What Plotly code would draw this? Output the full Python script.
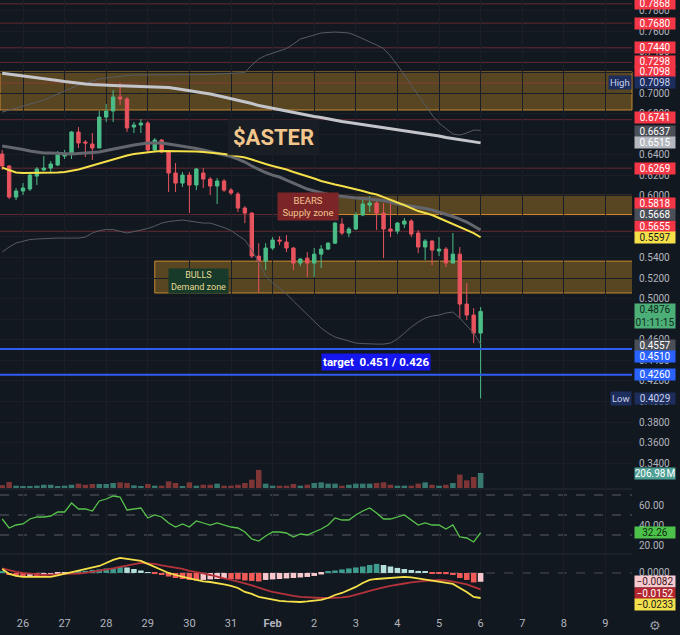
import plotly.graph_objects as go
import pandas as pd

# ---------------- data ----------------
times = pd.date_range("2026-01-25 12:00", periods=70, freq="4h")

opens = [0.6407, 0.6290, 0.5988, 0.6047, 0.6066, 0.6192, 0.6251, 0.6270, 0.6300, 0.6387,
         0.6407, 0.6621, 0.6523, 0.6504, 0.6465, 0.6766, 0.6825, 0.6961, 0.6942, 0.6669,
         0.6689, 0.6708, 0.6446, 0.6543, 0.6426, 0.6222, 0.6124, 0.6202, 0.6105, 0.6222,
         0.6163, 0.6095, 0.6144, 0.6056, 0.6017, 0.5881, 0.5832, 0.5414, 0.5365, 0.5492,
         0.5570, 0.5550, 0.5492, 0.5346, 0.5394, 0.5346, 0.5433, 0.5482, 0.5540, 0.5725,
         0.5638, 0.5677, 0.5813, 0.5910, 0.5930, 0.5832, 0.5677, 0.5657, 0.5725, 0.5755,
         0.5638, 0.5502, 0.5560, 0.5463, 0.5482, 0.5346, 0.5433, 0.4947, 0.4840, 0.4665]
highs = [0.6446, 0.6300, 0.6076, 0.6124, 0.6222, 0.6280, 0.6387, 0.6338, 0.6436, 0.6446,
         0.6630, 0.6669, 0.6543, 0.6611, 0.6825, 0.6893, 0.7029, 0.7098, 0.6961, 0.6718,
         0.6747, 0.6728, 0.6562, 0.6552, 0.6446, 0.6319, 0.6231, 0.6231, 0.6270, 0.6270,
         0.6183, 0.6173, 0.6163, 0.6076, 0.6037, 0.5900, 0.5842, 0.5540, 0.5540, 0.5599,
         0.5608, 0.5618, 0.5502, 0.5394, 0.5453, 0.5492, 0.5521, 0.5550, 0.5745, 0.5784,
         0.5696, 0.5842, 0.5969, 0.5998, 0.5959, 0.5930, 0.5930, 0.5745, 0.5784, 0.5774,
         0.5667, 0.5579, 0.5570, 0.5599, 0.5502, 0.5638, 0.5502, 0.5151, 0.4908, 0.4918]
lows = [0.6251, 0.5969, 0.5959, 0.6008, 0.6047, 0.6105, 0.6241, 0.6231, 0.6290, 0.6358,
        0.6358, 0.6465, 0.6377, 0.6348, 0.6465, 0.6718, 0.6718, 0.6883, 0.6621, 0.6611,
        0.6611, 0.6426, 0.6436, 0.6416, 0.6037, 0.6037, 0.6086, 0.5832, 0.6056, 0.6076,
        0.6008, 0.5920, 0.6037, 0.6008, 0.5842, 0.5735, 0.5394, 0.5054, 0.5278, 0.5472,
        0.5521, 0.5453, 0.5278, 0.5316, 0.5210, 0.5210, 0.5297, 0.5472, 0.5531, 0.5618,
        0.5599, 0.5667, 0.5803, 0.5842, 0.5667, 0.5394, 0.5599, 0.5628, 0.5686, 0.5599,
        0.5443, 0.5375, 0.5326, 0.5414, 0.5307, 0.5346, 0.4811, 0.4791, 0.4567, 0.4029]
closes = [0.6290, 0.5988, 0.6047, 0.6076, 0.6202, 0.6261, 0.6270, 0.6309, 0.6397, 0.6407,
          0.6621, 0.6514, 0.6514, 0.6465, 0.6766, 0.6825, 0.6961, 0.6942, 0.6660, 0.6689,
          0.6708, 0.6446, 0.6543, 0.6426, 0.6222, 0.6124, 0.6202, 0.6105, 0.6261, 0.6163,
          0.6095, 0.6144, 0.6056, 0.6027, 0.5881, 0.5832, 0.5414, 0.5365, 0.5492, 0.5570,
          0.5560, 0.5492, 0.5346, 0.5385, 0.5346, 0.5433, 0.5482, 0.5540, 0.5735, 0.5638,
          0.5677, 0.5813, 0.5920, 0.5930, 0.5832, 0.5677, 0.5657, 0.5735, 0.5755, 0.5628,
          0.5502, 0.5560, 0.5472, 0.5482, 0.5346, 0.5433, 0.4947, 0.4840, 0.4665, 0.4876]

volume_m = [40, 83, 32, 25, 25, 32, 45, 45, 25, 32,
            45, 60, 45, 55, 55, 55, 69, 78, 69, 37,
            25, 55, 32, 32, 92, 69, 25, 78, 32, 45,
            45, 60, 32, 32, 45, 69, 115, 250, 60, 32,
            32, 32, 55, 32, 45, 69, 78, 60, 60, 32,
            45, 60, 60, 60, 69, 78, 45, 32, 32, 32,
            60, 78, 45, 32, 45, 69, 185, 106, 152, 206.98]

ma_yellow = [0.6275, 0.6251, 0.6227, 0.6222, 0.6222, 0.6222, 0.6222, 0.6227, 0.6227, 0.6232,
             0.6241, 0.6256, 0.6275, 0.6295, 0.6314, 0.6334, 0.6358, 0.6377, 0.6392, 0.6407,
             0.6416, 0.6426, 0.6431, 0.6436, 0.6436, 0.6436, 0.6436, 0.6436, 0.6431, 0.6426,
             0.6421, 0.6416, 0.6407, 0.6397, 0.6387, 0.6373, 0.6353, 0.6329, 0.6309, 0.6290,
             0.6275, 0.6256, 0.6232, 0.6212, 0.6193, 0.6168, 0.6144, 0.6124, 0.6110, 0.6095,
             0.6081, 0.6066, 0.6047, 0.6027, 0.6013, 0.5988, 0.5959, 0.5935, 0.5910, 0.5881,
             0.5852, 0.5833, 0.5813, 0.5784, 0.5755, 0.5726, 0.5696, 0.5667, 0.5638, 0.5597]
ma_gray = [0.6484, 0.6475, 0.6465, 0.6450, 0.6436, 0.6426, 0.6416, 0.6416, 0.6411, 0.6407,
           0.6407, 0.6411, 0.6416, 0.6426, 0.6426, 0.6441, 0.6455, 0.6470, 0.6484, 0.6494,
           0.6504, 0.6514, 0.6514, 0.6514, 0.6504, 0.6494, 0.6480, 0.6470, 0.6460, 0.6446,
           0.6431, 0.6416, 0.6402, 0.6382, 0.6358, 0.6329, 0.6290, 0.6256, 0.6227, 0.6202,
           0.6183, 0.6154, 0.6124, 0.6095, 0.6066, 0.6047, 0.6027, 0.6013, 0.6003, 0.5993,
           0.5983, 0.5979, 0.5974, 0.5969, 0.5964, 0.5954, 0.5940, 0.5920, 0.5910, 0.5901,
           0.5886, 0.5876, 0.5862, 0.5842, 0.5818, 0.5799, 0.5774, 0.5745, 0.5706, 0.5668]
ma_long = [0.7193, 0.7185, 0.7175, 0.7165, 0.7161, 0.7151, 0.7141, 0.7131, 0.7122, 0.7112,
           0.7102, 0.7092, 0.7088, 0.7083, 0.7078, 0.7076, 0.7074, 0.7072, 0.7070, 0.7068,
           0.7066, 0.7063, 0.7061, 0.7058, 0.7054, 0.7044, 0.7034, 0.7024, 0.7015, 0.7005,
           0.6990, 0.6976, 0.6961, 0.6946, 0.6932, 0.6912, 0.6898, 0.6878, 0.6864, 0.6849,
           0.6835, 0.6820, 0.6810, 0.6796, 0.6781, 0.6771, 0.6762, 0.6747, 0.6732, 0.6723,
           0.6713, 0.6703, 0.6694, 0.6684, 0.6674, 0.6664, 0.6655, 0.6640, 0.6630, 0.6621,
           0.6611, 0.6601, 0.6591, 0.6582, 0.6567, 0.6557, 0.6548, 0.6538, 0.6528, 0.6515]
bb_upper = [0.6815, 0.6835, 0.6854, 0.6874, 0.6893, 0.6912, 0.6932, 0.6961, 0.6990, 0.7019,
            0.7049, 0.7078, 0.7097, 0.7117, 0.7136, 0.7146, 0.7156, 0.7165, 0.7170, 0.7175,
            0.7175, 0.7175, 0.7175, 0.7175, 0.7175, 0.7175, 0.7175, 0.7175, 0.7175, 0.7175,
            0.7180, 0.7185, 0.7190, 0.7195, 0.7195, 0.7199, 0.7272, 0.7331, 0.7365, 0.7389,
            0.7409, 0.7433, 0.7477, 0.7525, 0.7545, 0.7564, 0.7584, 0.7589, 0.7593, 0.7589,
            0.7584, 0.7559, 0.7530, 0.7501, 0.7467, 0.7433, 0.7360, 0.7272, 0.7175, 0.7078,
            0.6971, 0.6874, 0.6786, 0.6708, 0.6650, 0.6601, 0.6591, 0.6611, 0.6640, 0.6637]
bb_lower = [0.5453, 0.5502, 0.5541, 0.5560, 0.5575, 0.5580, 0.5585, 0.5589, 0.5589, 0.5589,
            0.5589, 0.5589, 0.5599, 0.5638, 0.5662, 0.5672, 0.5672, 0.5658, 0.5638, 0.5653,
            0.5667, 0.5682, 0.5706, 0.5735, 0.5750, 0.5760, 0.5765, 0.5755, 0.5745, 0.5735,
            0.5735, 0.5716, 0.5692, 0.5662, 0.5619, 0.5570, 0.5473, 0.5356, 0.5220, 0.5152,
            0.5103, 0.5045, 0.4977, 0.4909, 0.4840, 0.4782, 0.4714, 0.4665, 0.4626, 0.4607,
            0.4588, 0.4568, 0.4563, 0.4558, 0.4558, 0.4558, 0.4568, 0.4607, 0.4665, 0.4724,
            0.4772, 0.4811, 0.4831, 0.4840, 0.4860, 0.4870, 0.4811, 0.4743, 0.4665, 0.4557]

rsi = [46, 37, 40, 41, 46, 48, 48, 49, 53, 53,
       62, 56, 56, 54, 64, 66, 69, 68, 55, 56,
       57, 47, 50, 48, 42, 38, 41, 38, 44, 42,
       40, 42, 40, 38, 37, 33, 26, 24, 29, 33,
       33, 32, 28, 31, 30, 33, 36, 40, 47, 45,
       45, 50, 54, 57, 52, 46, 46, 48, 50, 45,
       40, 42, 40, 40, 36, 40, 28, 27, 23, 32.26]

macd_line = [0.0037, -0.0009, -0.0028, -0.0037, -0.0037, -0.0037, -0.0037, -0.0037, -0.0023, -0.0009,
             0.0009, 0.0019, 0.0033, 0.0047, 0.0065, 0.0093, 0.0121, 0.0140, 0.0130, 0.0121,
             0.0112, 0.0084, 0.0056, 0.0028, 0.0000, -0.0019, -0.0037, -0.0051, -0.0065, -0.0079,
             -0.0084, -0.0093, -0.0107, -0.0121, -0.0140, -0.0177, -0.0195, -0.0223, -0.0237, -0.0251,
             -0.0260, -0.0265, -0.0270, -0.0270, -0.0265, -0.0260, -0.0251, -0.0233, -0.0205, -0.0186,
             -0.0158, -0.0130, -0.0093, -0.0065, -0.0056, -0.0051, -0.0047, -0.0042, -0.0037, -0.0042,
             -0.0051, -0.0060, -0.0074, -0.0084, -0.0093, -0.0102, -0.0140, -0.0177, -0.0223, -0.0233]
macd_signal = [0.0042, 0.0023, 0.0009, 0.0000, -0.0009, -0.0014, -0.0019, -0.0019, -0.0014, -0.0009,
               -0.0009, -0.0005, 0.0000, 0.0009, 0.0019, 0.0028, 0.0042, 0.0056, 0.0070, 0.0084,
               0.0093, 0.0088, 0.0084, 0.0070, 0.0060, 0.0051, 0.0037, 0.0019, 0.0009, -0.0005,
               -0.0019, -0.0037, -0.0051, -0.0065, -0.0079, -0.0098, -0.0116, -0.0140, -0.0158, -0.0177,
               -0.0191, -0.0205, -0.0214, -0.0223, -0.0228, -0.0233, -0.0233, -0.0233, -0.0233, -0.0228,
               -0.0219, -0.0205, -0.0186, -0.0167, -0.0149, -0.0135, -0.0121, -0.0107, -0.0098, -0.0088,
               -0.0079, -0.0074, -0.0070, -0.0065, -0.0070, -0.0079, -0.0093, -0.0107, -0.0126, -0.0152]
macd_hist = [0.0009, -0.0019, -0.0028, -0.0033, -0.0028, -0.0028, -0.0023, -0.0019, -0.0009, -0.0005,
             0.0005, 0.0014, 0.0019, 0.0028, 0.0033, 0.0042, 0.0047, 0.0056, 0.0051, 0.0037,
             0.0023, 0.0005, -0.0009, -0.0019, -0.0033, -0.0047, -0.0056, -0.0065, -0.0070, -0.0065,
             -0.0060, -0.0056, -0.0051, -0.0056, -0.0060, -0.0070, -0.0074, -0.0079, -0.0065, -0.0060,
             -0.0056, -0.0051, -0.0047, -0.0042, -0.0037, -0.0028, -0.0014, 0.0009, 0.0023, 0.0033,
             0.0042, 0.0051, 0.0060, 0.0074, 0.0084, 0.0074, 0.0060, 0.0047, 0.0037, 0.0028,
             0.0019, 0.0009, -0.0005, -0.0009, -0.0011, -0.0019, -0.0047, -0.0065, -0.0088, -0.0082]

red_levels = [0.7868, 0.7680, 0.7440, 0.7298, 0.7098, 0.6741, 0.6269, 0.5818, 0.5655]
target_levels = [0.4510, 0.4260]
session_high = 0.7098
session_low = 0.4029
zone_high = (0.6835, 0.7205)
zone_supply = (0.5818, 0.6005)
zone_demand = (0.5055, 0.5365)
zone_supply_start = times[40]
zone_demand_start = times[22]

day_ticks = pd.date_range("2026-01-26", "2026-02-09", freq="D")
day_labels = ["26", "27", "28", "29", "30", "31", "<b>Feb</b>", "2", "3", "4", "5", "6", "7", "8", "9"]
price_ticks = [round(0.34 + 0.02 * k, 2) for k in range(23)]
current_price = 0.4876
countdown = "01:11:15"

# ---------------- styles ----------------
BG = "#121820"
UP = "#4bbd88"
DN = "#e8535e"
GRID = "#1a1f27"
TXT = "#b2b5be"
FONT = "Roboto"

fig = go.Figure()

fig.add_trace(go.Candlestick(
    x=times, open=opens, high=highs, low=lows, close=closes,
    increasing=dict(line=dict(color=UP, width=1), fillcolor=UP),
    decreasing=dict(line=dict(color=DN, width=1), fillcolor=DN),
    whiskerwidth=0, xaxis="x", yaxis="y", hoverinfo="skip"))

vol_colors = ["#37786f" if c >= o else "#7d3536" for o, c in zip(opens, closes)]
fig.add_trace(go.Bar(x=times, y=volume_m, marker=dict(color=vol_colors, line=dict(width=0)),
                     width=4 * 3600 * 1000 * 0.8, xaxis="x", yaxis="y2", hoverinfo="skip"))

fig.add_trace(go.Scatter(x=times, y=bb_upper, mode="lines", line=dict(color="#575b63", width=1),
                         xaxis="x", yaxis="y", hoverinfo="skip"))
fig.add_trace(go.Scatter(x=times, y=bb_lower, mode="lines", line=dict(color="#575b63", width=1),
                         xaxis="x", yaxis="y", hoverinfo="skip"))
fig.add_trace(go.Scatter(x=times, y=ma_long, mode="lines", line=dict(color="#c3c5ca", width=3),
                         xaxis="x", yaxis="y", hoverinfo="skip"))
fig.add_trace(go.Scatter(x=times, y=ma_gray, mode="lines", line=dict(color="#63666d", width=3),
                         xaxis="x", yaxis="y", hoverinfo="skip"))
fig.add_trace(go.Scatter(x=times, y=ma_yellow, mode="lines", line=dict(color="#f5e04a", width=2),
                         xaxis="x", yaxis="y", hoverinfo="skip"))

fig.add_trace(go.Scatter(x=times, y=rsi, mode="lines", line=dict(color="#58c44b", width=1.3),
                         xaxis="x", yaxis="y3", hoverinfo="skip"))

hist_colors = []
for i, h in enumerate(macd_hist):
    prev = macd_hist[i - 1] if i else h
    if h >= 0:
        hist_colors.append("#3f9d90" if h >= prev else "#b5e0da")
    else:
        hist_colors.append("#f05a57" if h <= prev else "#f8c8cd")
fig.add_trace(go.Bar(x=times, y=macd_hist, marker=dict(color=hist_colors, line=dict(width=0)),
                     width=4 * 3600 * 1000 * 0.8, xaxis="x", yaxis="y4", hoverinfo="skip"))
fig.add_trace(go.Scatter(x=times, y=macd_signal, mode="lines", line=dict(color="#b3333b", width=1.8),
                         xaxis="x", yaxis="y4", hoverinfo="skip"))
fig.add_trace(go.Scatter(x=times, y=macd_line, mode="lines", line=dict(color="#f5e04a", width=1.8),
                         xaxis="x", yaxis="y4", hoverinfo="skip"))

# ---------------- shapes ----------------
shapes = []
ZFILL = "rgba(214,150,40,0.36)"
ZLINE = "rgba(222,152,52,0.85)"
shapes.append(dict(type="rect", xref="x domain", yref="y", x0=0, x1=1, y0=zone_high[0], y1=zone_high[1],
                   fillcolor=ZFILL, line=dict(color=ZLINE, width=1), layer="below"))
shapes.append(dict(type="rect", xref="x", yref="y", x0=zone_supply_start, x1=times[-1] + pd.Timedelta(days=4),
                   y0=zone_supply[0], y1=zone_supply[1], fillcolor=ZFILL, line=dict(color=ZLINE, width=1), layer="below"))
shapes.append(dict(type="rect", xref="x", yref="y", x0=zone_demand_start, x1=times[-1] + pd.Timedelta(days=4),
                   y0=zone_demand[0], y1=zone_demand[1], fillcolor=ZFILL, line=dict(color=ZLINE, width=1), layer="below"))
for lv in red_levels:
    shapes.append(dict(type="line", xref="x domain", yref="y", x0=0, x1=1, y0=lv, y1=lv,
                       line=dict(color="rgba(180,58,66,0.5)", width=1), layer="below"))
for lv in target_levels:
    shapes.append(dict(type="line", xref="x domain", yref="y", x0=0, x1=1, y0=lv, y1=lv,
                       line=dict(color="#2f5cf0", width=2), layer="above"))
for lv in [70, 50, 30]:
    shapes.append(dict(type="line", xref="x domain", yref="y3", x0=0, x1=1, y0=lv, y1=lv,
                       line=dict(color="#5a5e66", width=1, dash="dash"), layer="below"))
shapes.append(dict(type="line", xref="x domain", yref="y4", x0=0, x1=1, y0=0, y1=0,
                   line=dict(color="#4a4e56", width=1, dash="dash"), layer="below"))
for py in [1 - 489 / 615, 1 - 554 / 615]:
    shapes.append(dict(type="line", xref="paper", yref="paper", x0=0, x1=1, y0=py, y1=py,
                       line=dict(color="#272c35", width=1)))

# ---------------- annotations ----------------
ann = []


def side_label(val, text, bg, fg, yref="y", shift=0):
    ann.append(dict(xref="paper", yref=yref, x=1, y=val, xanchor="left", yanchor="middle",
                    xshift=2, yshift=shift, text=text, showarrow=False, bgcolor=bg,
                    font=dict(family=FONT, size=10, color=fg), width=40, align="center", borderpad=0))


RED = "#f23645"
GRY = "#4b4f58"
label_shift = {0.7298: 1, 0.7098: 11, 0.6741: 2, 0.5818: 11.5, 0.5655: 5}
for lv in red_levels:
    side_label(lv, f"{lv:.4f}", RED, "white", shift=label_shift.get(lv, 0))
side_label(session_high, f"{session_high:.4f}", "#1d2d5c", "#c9d2ee")
side_label(bb_upper[-1], f"{bb_upper[-1]:.4f}", GRY, "white", shift=-1)
side_label(ma_long[-1], f"{ma_long[-1]:.4f}", "#b4b7be", "white")
side_label(ma_gray[-1], f"{ma_gray[-1]:.4f}", GRY, "white", shift=15)
side_label(ma_yellow[-1], f"{ma_yellow[-1]:.4f}", "#f5e04a", "#15181e")
side_label(current_price, f"{current_price:.4f}<br>{countdown}", "#4caf78", "#0f2a1c", shift=-5)
side_label(bb_lower[-1], f"{bb_lower[-1]:.4f}", GRY, "white", shift=-1)
side_label(target_levels[0], f"{target_levels[0]:.4f}", "#2962ff", "white", shift=-7)
side_label(target_levels[1], f"{target_levels[1]:.4f}", "#2962ff", "white")
side_label(session_low, f"{session_low:.4f}", "#1d2d5c", "#c9d2ee")
side_label(volume_m[-1], f"{volume_m[-1]:.2f}\u202fM", "#4e9f95", "white", yref="y2")
side_label(rsi[-1], f"{rsi[-1]:.2f}", "#4cc24a", "#0f2a0f", yref="y3")
side_label(macd_hist[-1], f"\u2212{abs(macd_hist[-1]):.4f}", "#f8c9cf", "#3a1a1e", yref="y4")
side_label(macd_signal[-1], f"\u2212{abs(macd_signal[-1]):.4f}", "#b3262f", "white", yref="y4", shift=-4)
side_label(macd_line[-1], f"\u2212{abs(macd_line[-1]):.4f}", "#f2e04c", "#1a1a1a", yref="y4", shift=-6)

for val, txt in [(session_high, "High"), (session_low, "Low")]:
    ann.append(dict(xref="paper", yref="y", x=1, y=val, xanchor="right", yanchor="middle", xshift=0,
                    text=txt, showarrow=False, bgcolor="#1d2d5c",
                    font=dict(family=FONT, size=9.5, color="#c9d2ee"), borderpad=1))

def box(xp, yp, text, bg, color, size, pad, width=None):
    d = dict(xref="paper", yref="paper", x=xp / 632, y=1 - yp / 615, xanchor="center", yanchor="middle",
             text=text, showarrow=False, bgcolor=bg, borderpad=pad,
             font=dict(family=FONT, size=size, color=color))
    if width:
        d["width"] = width
    ann.append(d)


box(273, 137, "<b>$ASTER</b>", "rgba(26,30,37,0.92)", "#f2c68c", 22, 5)
box(308, 206.5, "BEARS<br>Supply zone", "#7b2528", "#f3c590", 9.5, 2, 56)
box(198.5, 280.5, "BULLS<br>Demand zone", "#173a2b", "#e8db92", 9, 1, 57)
box(376, 362, "<b>target\u00a0 0.451 / 0.426</b>", "#1515ee", "white", 11.5, 1)
box(655, 625, "\u2699", "rgba(0,0,0,0)", "#9a9da5", 13, 0)
ann[-1]["font"]["family"] = "DejaVu Sans"

fig.update_layout(
    width=680, height=635, margin=dict(l=0, r=48, t=0, b=20),
    paper_bgcolor=BG, plot_bgcolor=BG, showlegend=False, hovermode=False,
    bargap=0.2, shapes=shapes, annotations=ann,
    font=dict(family=FONT, color=TXT),
    xaxis=dict(anchor="y4", range=["2026-01-25 10:44", "2026-02-09 15:20"], type="date",
               tickvals=list(day_ticks), ticktext=day_labels, tickfont=dict(size=11, color=TXT),
               showgrid=True, gridcolor=GRID, gridwidth=1, zeroline=False, showline=False,
               ticks="", rangeslider=dict(visible=False)),
    yaxis=dict(domain=[1 - 488 / 615, 1], range=[0.3158, 0.7905], side="right", anchor="x",
               tickvals=price_ticks, tickformat=".4f", tickfont=dict(size=10, color=TXT),
               showgrid=True, gridcolor=GRID, zeroline=False, ticks="", ticklabelstandoff=6),
    yaxis2=dict(domain=[1 - 488 / 615, 1], overlaying="y", range=[0, 6734], visible=False, anchor="x"),
    yaxis3=dict(domain=[1 - 553 / 615, 1 - 490 / 615], range=[12, 75], side="right", anchor="x",
                tickvals=[20, 40, 60], tickformat=".2f", tickfont=dict(size=10, color=TXT),
                showgrid=False, zeroline=False, ticks="", ticklabelstandoff=6),
    yaxis4=dict(domain=[0, 1 - 555 / 615], range=[-0.0391, 0.0167], side="right", anchor="x",
                tickvals=[0], tickformat=".4f", tickfont=dict(size=10, color=TXT),
                showgrid=False, zeroline=False, ticks="", ticklabelstandoff=6),
)

fig.write_html("out.html", config={"displayModeBar": False},
               post_script="document.body.style.margin='0';document.body.style.overflow='hidden';document.body.style.background='" + BG + "';")
